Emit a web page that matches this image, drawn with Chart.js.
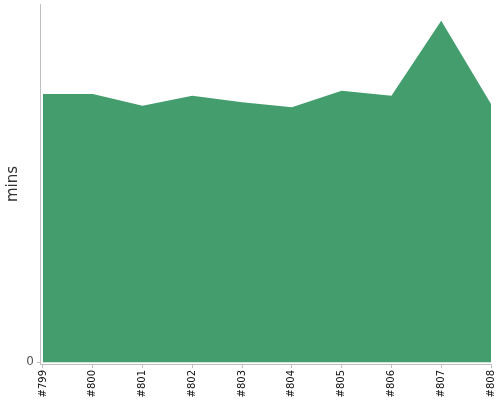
<!DOCTYPE html>
<html>
<head>
  <meta charset="UTF-8">
  <title>Build duration</title>
  <style>
    html, body { margin: 0; padding: 0; background: #fff; }
    #wrap { width: 500px; height: 400px; }
  </style>
</head>
<body>
  <div id="wrap"><canvas id="areaChart"></canvas></div>

  <script src="https://cdn.jsdelivr.net/npm/chart.js"></script>
  <script>
    // Build labels and durations (mins)
    const builds = ['#799', '#800', '#801', '#802', '#803', '#804', '#805', '#806', '#807', '#808'];
    const durations = [16.1, 16.1, 15.4, 16.0, 15.6, 15.3, 16.3, 16.0, 20.5, 15.5];
    const yTicks = [0];

    const points = durations.map((v, i) => ({ x: i, y: v }));

    new Chart(document.getElementById('areaChart'), {
      type: 'line',
      data: {
        datasets: [{
          data: points,
          fill: 'origin',
          backgroundColor: '#449d6d',
          borderWidth: 0,
          pointRadius: 0,
          tension: 0
        }]
      },
      options: {
        responsive: true,
        maintainAspectRatio: false,
        animation: false,
        layout: { padding: { top: 4, right: 9, left: 0, bottom: 0 } },
        plugins: { legend: { display: false }, tooltip: { enabled: false } },
        scales: {
          x: {
            type: 'linear',
            min: -0.06,
            max: builds.length - 1,
            afterBuildTicks: s => { s.ticks = builds.map((b, i) => ({ value: i })); },
            afterFit: s => { s.height = 36; s.paddingLeft = 0; s.paddingRight = 0; },
            border: { display: true, color: '#c0c0c0' },
            grid: { drawOnChartArea: false, drawTicks: true, tickLength: 4, color: '#c0c0c0' },
            ticks: {
              autoSkip: false,
              maxRotation: 90,
              minRotation: 90,
              padding: 2,
              color: '#111',
              font: { family: 'DejaVu Sans', size: 10 },
              callback: v => builds[v]
            }
          },
          y: {
            min: -0.1,
            max: 21.5,
            afterBuildTicks: s => { s.ticks = yTicks.map(v => ({ value: v })); },
            afterFit: s => { s.width = 40; s.paddingTop = 0; s.paddingBottom = 0; },
            border: { display: true, color: '#c0c0c0' },
            grid: { drawOnChartArea: false, drawTicks: true, tickLength: 3, color: '#c0c0c0' },
            ticks: {
              padding: 3,
              color: '#555',
              font: { family: 'DejaVu Sans', size: 12 }
            },
            title: {
              display: true,
              text: 'mins',
              color: '#333',
              padding: { top: 4, bottom: 2 },
              font: { family: 'DejaVu Sans', size: 15 }
            }
          }
        }
      }
    });
  </script>
</body>
</html>
